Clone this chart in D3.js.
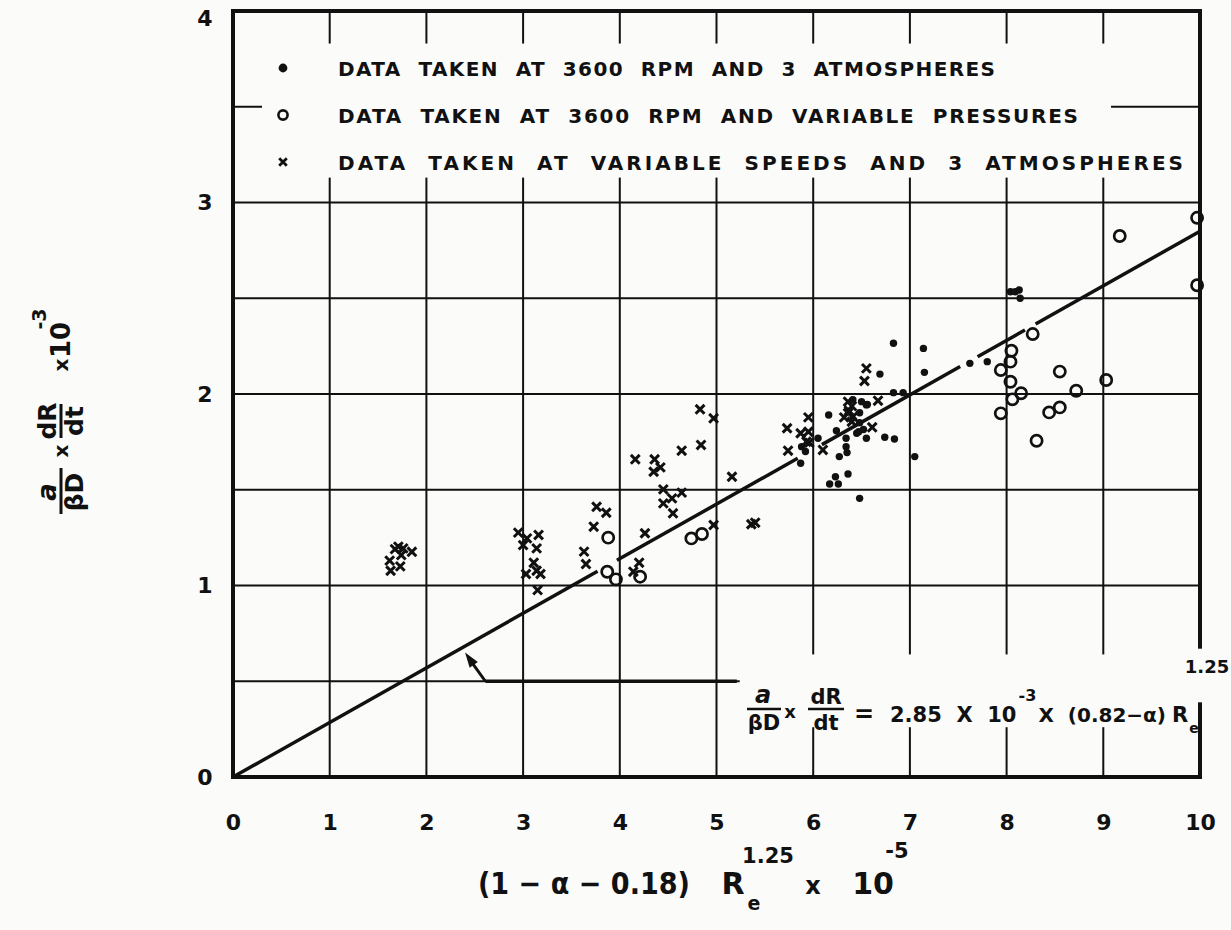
<!DOCTYPE html>
<html>
<head>
<meta charset="utf-8">
<script src="https://cdn.jsdelivr.net/npm/d3@7"></script>
<style>
  body { margin: 0; background: #fbfbfa; }
  svg { display: block; }
  text { font-family: "DejaVu Sans", sans-serif; font-weight: bold; fill: #111; white-space: pre; }
</style>
</head>
<body>
<div class="chart"></div>
<script>
// ---- data ----
const xTicks = [0, 1, 2, 3, 4, 5, 6, 7, 8, 9, 10];
const yTicks = [0, 1, 2, 3, 4];
const yGrid = [0.5, 1, 1.5, 2, 2.5, 3, 3.5];

// data taken at 3600 rpm and 3 atmospheres (filled dots)
const dots3600 = [
  [5.88, 1.725], [5.87, 1.638], [5.92, 1.70], [6.05, 1.769], [6.16, 1.89], [6.24, 1.808],
  [6.34, 1.769], [6.34, 1.725], [6.35, 1.694], [6.27, 1.673], [6.47, 1.803], [6.52, 1.815],
  [6.55, 1.769], [6.74, 1.774], [6.84, 1.765], [6.48, 1.902], [6.55, 1.943], [6.50, 1.96],
  [6.41, 1.97], [6.56, 1.945], [6.48, 1.85], [6.45, 1.795], [6.36, 1.582], [6.23, 1.568],
  [6.17, 1.53], [6.26, 1.53], [6.48, 1.455], [7.05, 1.673], [6.83, 2.265], [7.14, 2.238],
  [7.15, 2.113], [6.69, 2.104], [6.83, 2.007], [6.93, 2.007], [7.62, 2.16], [7.80, 2.169],
  [8.04, 2.534], [8.09, 2.534], [8.13, 2.543], [8.14, 2.50]
];

// data taken at 3600 rpm and variable pressures (open circles)
const circlesPress = [
  [3.88, 1.25], [3.87, 1.072], [3.96, 1.032], [4.21, 1.046], [4.74, 1.246], [4.85, 1.269],
  [9.97, 2.92], [9.17, 2.825], [9.97, 2.568], [8.27, 2.313], [8.05, 2.226], [8.04, 2.169],
  [7.94, 2.125], [8.04, 2.064], [8.55, 2.117], [9.03, 2.073], [8.72, 2.017], [8.15, 2.004],
  [8.06, 1.972], [7.94, 1.899], [8.55, 1.93], [8.44, 1.904], [8.31, 1.756]
];

// data taken at variable speeds and 3 atmospheres (crosses)
const crossesSpeed = [
  [1.71, 1.203], [1.76, 1.194], [1.74, 1.159], [1.62, 1.13], [1.73, 1.10], [1.63, 1.077],
  [1.85, 1.176], [1.675, 1.19],
  [2.95, 1.276], [3.04, 1.246], [3.16, 1.264], [3.0, 1.211], [3.14, 1.194], [3.11, 1.119],
  [3.03, 1.06], [3.14, 1.077], [3.18, 1.06], [3.15, 0.976],
  [3.73, 1.307], [3.63, 1.177], [3.65, 1.112], [3.76, 1.411], [3.86, 1.38], [4.26, 1.273],
  [4.20, 1.119], [4.14, 1.072],
  [4.83, 1.92], [4.97, 1.873], [4.84, 1.734], [4.64, 1.704], [4.16, 1.659], [4.36, 1.659],
  [4.42, 1.617], [4.35, 1.594], [4.45, 1.502], [4.64, 1.485], [4.54, 1.455], [4.45, 1.429],
  [4.55, 1.377], [5.16, 1.568], [4.97, 1.316], [5.36, 1.32], [5.40, 1.328],
  [5.73, 1.821], [5.95, 1.878], [5.74, 1.704], [5.87, 1.795], [5.95, 1.803], [5.96, 1.746],
  [5.93, 1.751], [6.10, 1.708],
  [6.55, 2.134], [6.53, 2.068], [6.36, 1.96], [6.40, 1.937], [6.37, 1.913], [6.41, 1.881],
  [6.32, 1.878], [6.40, 1.855], [6.36, 1.90], [6.67, 1.965], [6.61, 1.826]
];

// correlation line y = 0.285 x, drawn in pieces (gaps left round the points)
const fitSlope = 0.285;
const fitPieces = [[0, 3.77], [3.97, 5.84], [6.09, 7.52], [7.70, 8.19], [8.30, 10]];

const legendLabels = [
  "DATA  TAKEN  AT  3600  RPM  AND  3  ATMOSPHERES",
  "DATA  TAKEN  AT  3600  RPM  AND  VARIABLE  PRESSURES",
  "DATA  TAKEN  AT  VARIABLE  SPEEDS  AND  3  ATMOSPHERES"
];
const legendKinds = ["dot", "circle", "cross"];

// ---- drawing ----
const W = 1231, H = 930;
const bg = "#fbfbfa", ink = "#111";

const svg = d3.select(".chart").append("svg").attr("width", W).attr("height", H);
svg.append("rect").attr("width", W).attr("height", H).attr("fill", bg);

const x = d3.scaleLinear().domain([0, 10]).range([233, 1200]);
const y = d3.scaleLinear().domain([0, 4]).range([777, 11]);

// grid
const grid = svg.append("g").attr("stroke", ink).attr("stroke-width", 2);
grid.selectAll(".vg").data(xTicks.slice(1, -1)).enter().append("line")
  .attr("x1", d => x(d)).attr("x2", d => x(d))
  .attr("y1", y(0)).attr("y2", y(4));
grid.selectAll(".hg").data(yGrid).enter().append("line")
  .attr("x1", x(0)).attr("x2", x(10))
  .attr("y1", d => y(d)).attr("y2", d => y(d));

// frame
svg.append("rect")
  .attr("x", x(0)).attr("y", y(4))
  .attr("width", x(10) - x(0)).attr("height", y(0) - y(4))
  .attr("fill", "none").attr("stroke", ink).attr("stroke-width", 4);

// blank areas for legend and equation
svg.append("rect").attr("x", x(0.3)).attr("y", y(3.83))
  .attr("width", x(9.08) - x(0.3)).attr("height", y(3.13) - y(3.83)).attr("fill", bg);
svg.append("rect").attr("x", x(5.24)).attr("y", y(0.64))
  .attr("width", x(10) - x(5.24) - 3).attr("height", y(0.26) - y(0.64)).attr("fill", bg);
svg.append("rect").attr("x", x(10) - 4).attr("y", y(0.67))
  .attr("width", 8).attr("height", y(0.39) - y(0.67)).attr("fill", bg);

// tick labels
const xAxis = d3.axisBottom(x).tickValues(xTicks).tickSize(0).tickPadding(0).tickFormat(d3.format("d"));
const gx = svg.append("g").attr("transform", `translate(0, ${y(0) + 37})`).call(xAxis);
gx.select(".domain").remove();
gx.selectAll("text").attr("font-size", 22).attr("fill", ink)
  .attr("font-family", "DejaVu Sans").attr("font-weight", "bold");

const yAxis = d3.axisLeft(y).tickValues(yTicks).tickSize(0).tickPadding(0).tickFormat(d3.format("d"));
const gy = svg.append("g").attr("transform", `translate(${x(0) - 28}, 0)`).call(yAxis);
gy.select(".domain").remove();
gy.selectAll("text").attr("font-size", 22).attr("fill", ink).attr("text-anchor", "middle")
  .attr("font-family", "DejaVu Sans").attr("font-weight", "bold")
  .attr("y", d => d === 4 ? 7 : 0);

// correlation line
svg.append("g").selectAll("line").data(fitPieces).enter().append("line")
  .attr("x1", d => x(d[0])).attr("y1", d => y(d[0] * fitSlope))
  .attr("x2", d => x(d[1])).attr("y2", d => y(d[1] * fitSlope))
  .attr("stroke", ink).attr("stroke-width", 3.5);

// leader from equation to line
svg.append("line").attr("x1", x(2.61)).attr("x2", x(5.21))
  .attr("y1", y(0.5)).attr("y2", y(0.5)).attr("stroke", ink).attr("stroke-width", 3.5);
const ax0 = x(2.61), ay0 = y(0.5), ax1 = x(2.40), ay1 = y(0.65);
svg.append("line").attr("x1", ax0).attr("y1", ay0).attr("x2", ax1 + 4).attr("y2", ay1 + 6)
  .attr("stroke", ink).attr("stroke-width", 3);
{
  const ang = Math.atan2(ay1 - ay0, ax1 - ax0);
  const L = 15, Wd = 5;
  const bx = ax1 - L * Math.cos(ang), by = ay1 - L * Math.sin(ang);
  const px = -Math.sin(ang) * Wd, py = Math.cos(ang) * Wd;
  svg.append("path")
    .attr("d", `M${ax1},${ay1}L${bx + px},${by + py}L${bx - px},${by - py}Z`)
    .attr("fill", ink);
}

// markers
const crossPath = (cx, cy, s) =>
  `M${cx - s},${cy - s}L${cx + s},${cy + s}M${cx - s},${cy + s}L${cx + s},${cy - s}`;

svg.append("g").selectAll("circle").data(dots3600).enter().append("circle")
  .attr("cx", d => x(d[0])).attr("cy", d => y(d[1])).attr("r", 3.7).attr("fill", ink);

svg.append("g").selectAll("circle").data(circlesPress).enter().append("circle")
  .attr("cx", d => x(d[0])).attr("cy", d => y(d[1])).attr("r", 5.6)
  .attr("fill", "none").attr("stroke", ink).attr("stroke-width", 2.7);

svg.append("g").selectAll("path").data(crossesSpeed).enter().append("path")
  .attr("d", d => crossPath(x(d[0]), y(d[1]), 4.4))
  .attr("stroke", ink).attr("stroke-width", 3).attr("fill", "none");

// legend
const legendY = [68, 115, 162];
const legendW = [657, 740, 845];
const lg = svg.append("g");
legendLabels.forEach((lab, i) => {
  const cy = legendY[i], cx = 283;
  if (legendKinds[i] === "dot") {
    lg.append("circle").attr("cx", cx).attr("cy", cy).attr("r", 4.4).attr("fill", ink);
  } else if (legendKinds[i] === "circle") {
    lg.append("circle").attr("cx", cx).attr("cy", cy).attr("r", 4.6)
      .attr("fill", "none").attr("stroke", ink).attr("stroke-width", 2.6);
  } else {
    lg.append("path").attr("d", crossPath(cx, cy, 3.8))
      .attr("stroke", ink).attr("stroke-width", 2.8);
  }
  lg.append("text").attr("x", 338).attr("y", cy + 8).attr("font-size", 20)
    .attr("textLength", legendW[i]).attr("lengthAdjust", "spacing")
    .attr("xml:space", "preserve")
    .text(lab);
});

// equation label
const eq = svg.append("g");
const t = (gsel, tx, ty, s, size, anchor) => gsel.append("text")
  .attr("x", tx).attr("y", ty).attr("font-size", size || 22)
  .attr("text-anchor", anchor || "middle").text(s);
t(eq, 763, 703, "a", 24).attr("font-style", "italic");
eq.append("line").attr("x1", 747).attr("x2", 781).attr("y1", 709).attr("y2", 709)
  .attr("stroke", ink).attr("stroke-width", 2.5);
t(eq, 764, 730, "βD", 21);
t(eq, 790, 718, "x", 18);
t(eq, 826, 704, "dR", 21);
eq.append("line").attr("x1", 808).attr("x2", 844).attr("y1", 709).attr("y2", 709)
  .attr("stroke", ink).attr("stroke-width", 2.5);
t(eq, 826, 730, "dt", 21);
t(eq, 864, 722, "=", 24);
const run1 = t(eq, 890, 722, "2.85  X  10", 21, "start").attr("xml:space", "preserve");
const r1end = 890 + run1.node().getComputedTextLength();
t(eq, r1end + 2, 701, "-3", 16, "start");
const run2 = t(eq, r1end + 22, 722, "X  (0.82−α)", 20, "start").attr("xml:space", "preserve");
const r2end = r1end + 22 + run2.node().getComputedTextLength();
const rR = t(eq, r2end + 6, 722, "R", 21, "start");
const rEnd = r2end + 6 + rR.node().getComputedTextLength();
t(eq, rEnd + 1, 733, "e", 14, "start");
t(eq, 1207, 673, "1.25", 18);

// x title
const xt = svg.append("g");
xt.append("text").attr("x", 478).attr("y", 894).attr("font-size", 30)
  .attr("textLength", 212).attr("lengthAdjust", "spacingAndGlyphs")
  .attr("xml:space", "preserve").text("(1 − α − 0.18)");
xt.append("text").attr("x", 733).attr("y", 894).attr("font-size", 30).attr("text-anchor", "middle").text("R");
xt.append("text").attr("x", 754).attr("y", 910).attr("font-size", 19).attr("text-anchor", "middle").text("e");
xt.append("text").attr("x", 768).attr("y", 863).attr("font-size", 21).attr("text-anchor", "middle").text("1.25");
xt.append("text").attr("x", 813).attr("y", 894).attr("font-size", 24).attr("text-anchor", "middle").text("x");
xt.append("text").attr("x", 873).attr("y", 894).attr("font-size", 30).attr("text-anchor", "middle").text("10");
xt.append("text").attr("x", 897).attr("y", 858).attr("font-size", 21).attr("text-anchor", "middle").text("-5");

// y title (rotated)
const yt = svg.append("g").attr("transform", "translate(62, 422) rotate(-90)");
t(yt, -70, -6, "a", 26).attr("font-style", "italic");
yt.append("line").attr("x1", -92).attr("x2", -46).attr("y1", -1).attr("y2", -1)
  .attr("stroke", ink).attr("stroke-width", 3);
t(yt, -70, 21, "βD", 25);
t(yt, -29, 6, "x", 20);
t(yt, 1, -6, "dR", 25);
yt.append("line").attr("x1", -16).attr("x2", 18).attr("y1", -1).attr("y2", -1)
  .attr("stroke", ink).attr("stroke-width", 3);
t(yt, 1, 21, "dt", 25);
t(yt, 57, 6, "x", 20);
t(yt, 82, 8, "10", 26);
t(yt, 103, -16, "-3", 19);
</script>
</body>
</html>
